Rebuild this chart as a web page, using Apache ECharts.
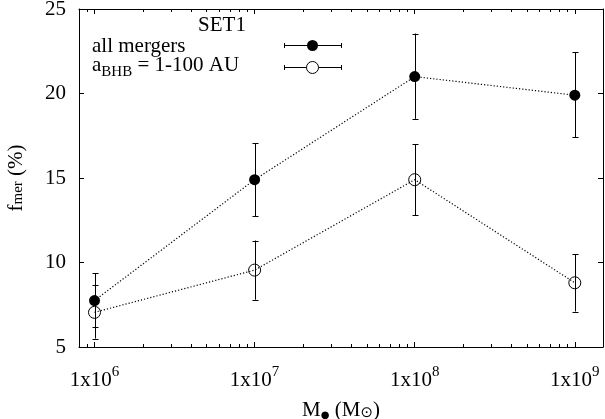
<!DOCTYPE html>
<html><head><meta charset="utf-8">
<script src="https://cdn.jsdelivr.net/npm/echarts@6/dist/echarts.min.js"></script>
<style>html,body{margin:0;padding:0;background:#fff}#c{width:605px;height:419px}</style>
</head><body><div id="c"></div>
<script>
// ---- data ----
const masses = [1e6, 1e7, 1e8, 1e9];
const allMergers = [7.75, 14.9, 21.0, 19.9];
const allMergersLow = [6.2, 12.75, 18.5, 17.4];
const allMergersHigh = [9.35, 17.05, 23.55, 22.45];
const closeBHB = [7.05, 9.55, 14.9, 8.8];
const closeBHBLow = [5.5, 7.8, 12.8, 7.1];
const closeBHBHigh = [8.65, 11.3, 17.0, 10.5];
const xMajorTicks = [1e6, 1e7, 1e8, 1e9];
const xTickLabels = ['1x10{sup|6}', '1x10{sup|7}', '1x10{sup|8}', '1x10{sup|9}'];
const xMinorTicks = [9e5, 2e6, 3e6, 4e6, 5e6, 6e6, 7e6, 8e6, 9e6,
  2e7, 3e7, 4e7, 5e7, 6e7, 7e7, 8e7, 9e7,
  2e8, 3e8, 4e8, 5e8, 6e8, 7e8, 8e8, 9e8];
const xMin = 8e5, xMax = 1.5e9;
const yMin = 5, yMax = 25, yStep = 5;
const legendTitle = 'SET1';
const legendNames = ['all mergers', '{m|a}{sub|BHB}{m| = 1-100 AU}'];

const FONT = '"Liberation Serif", "Times New Roman", serif';
const FS = 21;
const chart = echarts.init(document.getElementById('c'), null, {renderer: 'canvas'});

function errRender(params, api) {
  const x = api.value(0), lo = api.value(1), hi = api.value(2);
  const a = api.coord([x, lo]), b = api.coord([x, hi]);
  const px = Math.round(a[0]) + 0.5, w = 3;
  const style = {stroke: '#000', lineWidth: 1, fill: null};
  return {type: 'group', children: [
    {type: 'line', shape: {x1: px, y1: a[1], x2: px, y2: b[1]}, style},
    {type: 'line', shape: {x1: px - w, y1: Math.round(a[1]) + 0.5, x2: px + w, y2: Math.round(a[1]) + 0.5}, style},
    {type: 'line', shape: {x1: px - w, y1: Math.round(b[1]) + 0.5, x2: px + w, y2: Math.round(b[1]) + 0.5}, style}
  ]};
}
function minorRender(params, api) {
  const x = api.value(0);
  const a = api.coord([x, yMin]), b = api.coord([x, yMax]);
  const px = Math.round(a[0]) + 0.5, len = 3;
  const style = {stroke: '#000', lineWidth: 1, fill: null};
  return {type: 'group', children: [
    {type: 'line', shape: {x1: px, y1: a[1], x2: px, y2: a[1] - len}, style},
    {type: 'line', shape: {x1: px, y1: b[1], x2: px, y2: b[1] + len}, style}
  ]};
}
function xLabel(v) {
  for (let i = 0; i < xMajorTicks.length; i++) {
    if (Math.abs(Math.log10(v) - Math.log10(xMajorTicks[i])) < 1e-6) return xTickLabels[i];
  }
  return '';
}
const axisCommonX = {
  type: 'log', logBase: 10, min: xMin, max: xMax,
  axisLine: {show: true, onZero: false, lineStyle: {color: '#000', width: 1}},
  axisTick: {show: true, inside: true, length: 5, lineStyle: {color: '#000', width: 1}},
  splitLine: {show: false}, minorTick: {show: false}
};
const axisCommonY = {
  type: 'value', min: yMin, max: yMax, interval: yStep,
  axisLine: {show: true, onZero: false, lineStyle: {color: '#000', width: 1}},
  axisTick: {show: true, inside: true, length: 5, lineStyle: {color: '#000', width: 1}},
  splitLine: {show: false}
};
const subStyle = {fontSize: 15, fontFamily: FONT, color: '#000', verticalAlign: 'bottom', lineHeight: 6};

chart.setOption({
  animation: false,
  backgroundColor: '#fff',
  grid: {left: 79, right: 2, top: 9, bottom: 72, containLabel: false, outerBoundsMode: 'none'},
  xAxis: [
    Object.assign({}, axisCommonX, {
      position: 'bottom',
      axisLabel: {show: true, formatter: xLabel, fontFamily: FONT, fontSize: FS, color: '#000', margin: 18,
        lineHeight: 30, showMinLabel: false, showMaxLabel: false,
        rich: {sup: {fontSize: 15, fontFamily: FONT, color: '#000', verticalAlign: 'top', lineHeight: 4}}},
      name: 'M{bul|●} (M{sub|⊙})', nameLocation: 'middle', nameGap: 49,
      nameTextStyle: {fontFamily: FONT, fontSize: FS, color: '#000', lineHeight: 20,
        rich: {sub: {fontSize: 15, fontFamily: '"DejaVu Sans", sans-serif', color: '#000', verticalAlign: 'bottom', lineHeight: 6},
               bul: {fontSize: 10, fontFamily: '"DejaVu Sans", sans-serif', color: '#000', verticalAlign: 'bottom', lineHeight: 6}}}
    }),
    Object.assign({}, axisCommonX, {position: 'top', axisLabel: {show: false}})
  ],
  yAxis: [
    Object.assign({}, axisCommonY, {
      position: 'left',
      axisLabel: {show: true, fontFamily: FONT, fontSize: FS, color: '#000', margin: 13},
      name: 'f{sub|mer} (%)', nameLocation: 'middle', nameRotate: 90, nameGap: 53,
      nameTextStyle: {fontFamily: FONT, fontSize: FS, color: '#000', lineHeight: 20, rich: {sub: subStyle}}
    }),
    Object.assign({}, axisCommonY, {position: 'right', axisLabel: {show: false}})
  ],
  series: [
    {type: 'custom', name: 'minor', renderItem: minorRender, silent: true, z: 1,
     data: xMinorTicks.map(v => [v, yMin]), encode: {x: 0, y: 1}},
    {type: 'line', name: 'all mergers', data: masses.map((m, i) => [m, allMergers[i]]),
     lineStyle: {color: '#000', width: 1.2, type: [1.2, 2]}, symbol: 'circle', symbolSize: 11,
     itemStyle: {color: '#000'}, z: 2},
    {type: 'line', name: 'a_BHB', data: masses.map((m, i) => [m, closeBHB[i]]),
     lineStyle: {color: '#000', width: 1.2, type: [1.2, 2]}, symbol: 'circle', symbolSize: 12,
     itemStyle: {color: 'rgba(0,0,0,0)', borderColor: '#000', borderWidth: 1}, z: 2},
    {type: 'custom', name: 'err1', renderItem: errRender, silent: true, z: 3,
     data: masses.map((m, i) => [m, allMergersLow[i], allMergersHigh[i]]), encode: {x: 0, y: [1, 2]}},
    {type: 'custom', name: 'err2', renderItem: errRender, silent: true, z: 3,
     data: masses.map((m, i) => [m, closeBHBLow[i], closeBHBHigh[i]]), encode: {x: 0, y: [1, 2]}}
  ],
  graphic: [
    {type: 'text', x: 222, y: 25, style: {text: legendTitle, font: FS + 'px ' + FONT, fill: '#000', textAlign: 'center', textVerticalAlign: 'middle'}},
    {type: 'text', x: 92, y: 46, style: {text: legendNames[0], font: FS + 'px ' + FONT, fill: '#000', textAlign: 'left', textVerticalAlign: 'middle'}},
    {type: 'text', x: 92, y: 55, style: {text: legendNames[1], fill: '#000', textAlign: 'left', textVerticalAlign: 'top',
      rich: {m: {fontSize: FS, fontFamily: FONT, fill: '#000', lineHeight: 22, verticalAlign: 'top'},
             sub: {fontSize: 15, fontFamily: FONT, fill: '#000', lineHeight: 15, verticalAlign: 'top', padding: [10, 0, 0, 0]}}}},
    {type: 'line', shape: {x1: 284.5, y1: 45.5, x2: 341.5, y2: 45.5}, style: {stroke: '#000', lineWidth: 1}},
    {type: 'line', shape: {x1: 284.5, y1: 43, x2: 284.5, y2: 48}, style: {stroke: '#000', lineWidth: 1}},
    {type: 'line', shape: {x1: 341.5, y1: 43, x2: 341.5, y2: 48}, style: {stroke: '#000', lineWidth: 1}},
    {type: 'circle', shape: {cx: 312.5, cy: 45.5, r: 5.5}, style: {fill: '#000'}},
    {type: 'line', shape: {x1: 284.5, y1: 67.5, x2: 341.5, y2: 67.5}, style: {stroke: '#000', lineWidth: 1}},
    {type: 'line', shape: {x1: 284.5, y1: 65, x2: 284.5, y2: 70}, style: {stroke: '#000', lineWidth: 1}},
    {type: 'line', shape: {x1: 341.5, y1: 65, x2: 341.5, y2: 70}, style: {stroke: '#000', lineWidth: 1}},
    {type: 'circle', shape: {cx: 312.5, cy: 67.5, r: 6}, style: {fill: '#fff', stroke: '#000', lineWidth: 1}}
  ]
});
</script></body></html>
